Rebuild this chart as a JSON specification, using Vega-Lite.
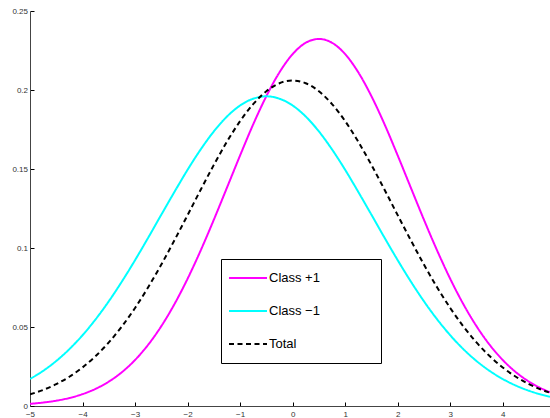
{
  "$schema": "https://vega.github.io/schema/vega-lite/v6.json",
  "width": 520,
  "height": 395,
  "autosize": {"type": "none"},
  "padding": {"left": 30, "top": 11, "right": 0, "bottom": 12},
  "background": "white",
  "config": {
    "view": {"stroke": null},
    "font": "Liberation Sans",
    "axis": {
      "grid": false,
      "domainColor": "#444444",
      "domainWidth": 1,
      "tickColor": "#000000",
      "tickSize": -4,
      "tickWidth": 1,
      "labelFont": "Liberation Sans",
      "labelFontSize": 8,
      "labelColor": "#333333",
      "labelFlush": false,
      "labelPadding": 8,
      "title": null
    },
    "legend": {
      "orient": "none",
      "legendX": 191,
      "legendY": 248,
      "padding": 6,
      "strokeColor": "#000000",
      "fillColor": "#ffffff",
      "symbolType": "stroke",
      "symbolSize": 1444,
      "symbolStrokeWidth": 2,
      "clipHeight": 26,
      "rowPadding": 7,
      "labelFont": "Liberation Sans",
      "labelFontSize": 13,
      "labelColor": "#000000",
      "symbolOffset": 1,
      "labelOffset": 1,
      "titleOrient": "right",
      "titlePadding": 55,
      "titleFontSize": 13
    }
  },
  "data": {
    "values": [
      {"x": -5, "y": 0.001378, "s": "Class +1"},
      {"x": -4.75, "y": 0.002174, "s": "Class +1"},
      {"x": -4.5, "y": 0.003356, "s": "Class +1"},
      {"x": -4.25, "y": 0.005073, "s": "Class +1"},
      {"x": -4, "y": 0.007507, "s": "Class +1"},
      {"x": -3.75, "y": 0.01088, "s": "Class +1"},
      {"x": -3.5, "y": 0.01543, "s": "Class +1"},
      {"x": -3.25, "y": 0.02142, "s": "Class +1"},
      {"x": -3, "y": 0.02913, "s": "Class +1"},
      {"x": -2.75, "y": 0.03877, "s": "Class +1"},
      {"x": -2.5, "y": 0.05053, "s": "Class +1"},
      {"x": -2.25, "y": 0.06447, "s": "Class +1"},
      {"x": -2, "y": 0.08054, "s": "Class +1"},
      {"x": -1.75, "y": 0.09849, "s": "Class +1"},
      {"x": -1.5, "y": 0.1179, "s": "Class +1"},
      {"x": -1.25, "y": 0.1382, "s": "Class +1"},
      {"x": -1, "y": 0.1586, "s": "Class +1"},
      {"x": -0.75, "y": 0.1783, "s": "Class +1"},
      {"x": -0.5, "y": 0.1961, "s": "Class +1"},
      {"x": -0.25, "y": 0.2112, "s": "Class +1"},
      {"x": 0, "y": 0.2227, "s": "Class +1"},
      {"x": 0.25, "y": 0.2299, "s": "Class +1"},
      {"x": 0.5, "y": 0.2323, "s": "Class +1"},
      {"x": 0.75, "y": 0.2299, "s": "Class +1"},
      {"x": 1, "y": 0.2227, "s": "Class +1"},
      {"x": 1.25, "y": 0.2112, "s": "Class +1"},
      {"x": 1.5, "y": 0.1961, "s": "Class +1"},
      {"x": 1.75, "y": 0.1783, "s": "Class +1"},
      {"x": 2, "y": 0.1586, "s": "Class +1"},
      {"x": 2.25, "y": 0.1382, "s": "Class +1"},
      {"x": 2.5, "y": 0.1179, "s": "Class +1"},
      {"x": 2.75, "y": 0.09849, "s": "Class +1"},
      {"x": 3, "y": 0.08054, "s": "Class +1"},
      {"x": 3.25, "y": 0.06447, "s": "Class +1"},
      {"x": 3.5, "y": 0.05053, "s": "Class +1"},
      {"x": 3.75, "y": 0.03877, "s": "Class +1"},
      {"x": 4, "y": 0.02913, "s": "Class +1"},
      {"x": 4.25, "y": 0.02142, "s": "Class +1"},
      {"x": 4.5, "y": 0.01543, "s": "Class +1"},
      {"x": 4.75, "y": 0.01088, "s": "Class +1"},
      {"x": 4.9, "y": 0.008729, "s": "Class +1"},
      {"x": -5, "y": 0.01709, "s": "Class −1"},
      {"x": -4.75, "y": 0.02224, "s": "Class −1"},
      {"x": -4.5, "y": 0.02851, "s": "Class −1"},
      {"x": -4.25, "y": 0.03601, "s": "Class −1"},
      {"x": -4, "y": 0.0448, "s": "Class −1"},
      {"x": -3.75, "y": 0.0549, "s": "Class −1"},
      {"x": -3.5, "y": 0.06627, "s": "Class −1"},
      {"x": -3.25, "y": 0.07881, "s": "Class −1"},
      {"x": -3, "y": 0.09231, "s": "Class −1"},
      {"x": -2.75, "y": 0.1065, "s": "Class −1"},
      {"x": -2.5, "y": 0.1211, "s": "Class −1"},
      {"x": -2.25, "y": 0.1355, "s": "Class −1"},
      {"x": -2, "y": 0.1495, "s": "Class −1"},
      {"x": -1.75, "y": 0.1624, "s": "Class −1"},
      {"x": -1.5, "y": 0.1738, "s": "Class −1"},
      {"x": -1.25, "y": 0.1832, "s": "Class −1"},
      {"x": -1, "y": 0.1902, "s": "Class −1"},
      {"x": -0.75, "y": 0.1945, "s": "Class −1"},
      {"x": -0.5, "y": 0.196, "s": "Class −1"},
      {"x": -0.25, "y": 0.1945, "s": "Class −1"},
      {"x": 0, "y": 0.1902, "s": "Class −1"},
      {"x": 0.25, "y": 0.1832, "s": "Class −1"},
      {"x": 0.5, "y": 0.1738, "s": "Class −1"},
      {"x": 0.75, "y": 0.1624, "s": "Class −1"},
      {"x": 1, "y": 0.1495, "s": "Class −1"},
      {"x": 1.25, "y": 0.1355, "s": "Class −1"},
      {"x": 1.5, "y": 0.1211, "s": "Class −1"},
      {"x": 1.75, "y": 0.1065, "s": "Class −1"},
      {"x": 2, "y": 0.09231, "s": "Class −1"},
      {"x": 2.25, "y": 0.07881, "s": "Class −1"},
      {"x": 2.5, "y": 0.06627, "s": "Class −1"},
      {"x": 2.75, "y": 0.0549, "s": "Class −1"},
      {"x": 3, "y": 0.0448, "s": "Class −1"},
      {"x": 3.25, "y": 0.03601, "s": "Class −1"},
      {"x": 3.5, "y": 0.02851, "s": "Class −1"},
      {"x": 3.75, "y": 0.02224, "s": "Class −1"},
      {"x": 4, "y": 0.01709, "s": "Class −1"},
      {"x": 4.25, "y": 0.01293, "s": "Class −1"},
      {"x": 4.5, "y": 0.009641, "s": "Class −1"},
      {"x": 4.75, "y": 0.00708, "s": "Class −1"},
      {"x": 4.9, "y": 0.005841, "s": "Class −1"},
      {"x": -5, "y": 0.007349, "s": "Total"},
      {"x": -4.75, "y": 0.01017, "s": "Total"},
      {"x": -4.5, "y": 0.01384, "s": "Total"},
      {"x": -4.25, "y": 0.01853, "s": "Total"},
      {"x": -4, "y": 0.0244, "s": "Total"},
      {"x": -3.75, "y": 0.03159, "s": "Total"},
      {"x": -3.5, "y": 0.04023, "s": "Total"},
      {"x": -3.25, "y": 0.05038, "s": "Total"},
      {"x": -3, "y": 0.06205, "s": "Total"},
      {"x": -2.75, "y": 0.07515, "s": "Total"},
      {"x": -2.5, "y": 0.08953, "s": "Total"},
      {"x": -2.25, "y": 0.1049, "s": "Total"},
      {"x": -2, "y": 0.1208, "s": "Total"},
      {"x": -1.75, "y": 0.1369, "s": "Total"},
      {"x": -1.5, "y": 0.1526, "s": "Total"},
      {"x": -1.25, "y": 0.1673, "s": "Total"},
      {"x": -1, "y": 0.1803, "s": "Total"},
      {"x": -0.75, "y": 0.1911, "s": "Total"},
      {"x": -0.5, "y": 0.1992, "s": "Total"},
      {"x": -0.25, "y": 0.2043, "s": "Total"},
      {"x": 0, "y": 0.206, "s": "Total"},
      {"x": 0.25, "y": 0.2043, "s": "Total"},
      {"x": 0.5, "y": 0.1992, "s": "Total"},
      {"x": 0.75, "y": 0.1911, "s": "Total"},
      {"x": 1, "y": 0.1803, "s": "Total"},
      {"x": 1.25, "y": 0.1673, "s": "Total"},
      {"x": 1.5, "y": 0.1526, "s": "Total"},
      {"x": 1.75, "y": 0.1369, "s": "Total"},
      {"x": 2, "y": 0.1208, "s": "Total"},
      {"x": 2.25, "y": 0.1049, "s": "Total"},
      {"x": 2.5, "y": 0.08953, "s": "Total"},
      {"x": 2.75, "y": 0.07515, "s": "Total"},
      {"x": 3, "y": 0.06205, "s": "Total"},
      {"x": 3.25, "y": 0.05038, "s": "Total"},
      {"x": 3.5, "y": 0.04023, "s": "Total"},
      {"x": 3.75, "y": 0.03159, "s": "Total"},
      {"x": 4, "y": 0.0244, "s": "Total"},
      {"x": 4.25, "y": 0.01853, "s": "Total"},
      {"x": 4.5, "y": 0.01384, "s": "Total"},
      {"x": 4.75, "y": 0.01017, "s": "Total"},
      {"x": 4.9, "y": 0.008386, "s": "Total"}
    ]
  },
  "mark": {"type": "line", "strokeWidth": 2, "interpolate": "monotone", "clip": true},
  "encoding": {
    "x": {
      "field": "x",
      "type": "quantitative",
      "scale": {"domain": [-5, 4.9], "nice": false, "zero": false},
      "axis": {"values": [-5, -4, -3, -2, -1, 0, 1, 2, 3, 4], "format": "d"}
    },
    "y": {
      "field": "y",
      "type": "quantitative",
      "scale": {"domain": [0, 0.25], "nice": false},
      "axis": {"values": [0, 0.05, 0.1, 0.15, 0.2, 0.25], "format": "~g", "labelPadding": 6.5}
    },
    "color": {
      "field": "s",
      "type": "nominal",
      "scale": {"domain": ["Class +1", "Class −1", "Total"], "range": ["#ff00ff", "#00ffff", "#000000"]},
      "legend": {"title": "\u00a0"}
    },
    "strokeDash": {
      "field": "s",
      "type": "nominal",
      "scale": {"domain": ["Class +1", "Class −1", "Total"], "range": [[1, 0], [1, 0], [5, 3.5]]},
      "legend": {"title": "\u00a0"}
    }
  }
}
